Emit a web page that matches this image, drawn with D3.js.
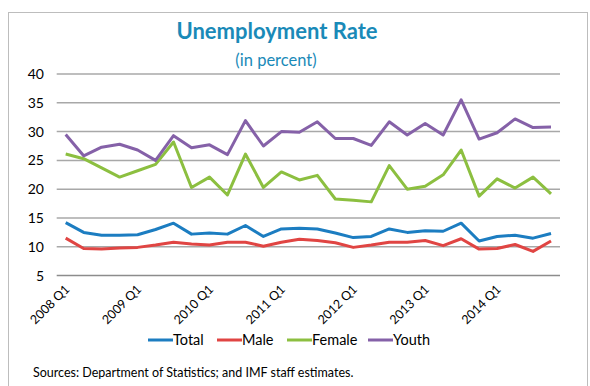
<!DOCTYPE html>
<html>
<head>
<meta charset="utf-8">
<script src="https://cdn.jsdelivr.net/npm/d3@7"></script>
<style>
  body { margin: 0; background: #fff; }
  svg { display: block; font-family: Lato, "Open Sans", sans-serif; }
</style>
</head>
<body>
<div id="chart"></div>
<script>
// quarters 2008 Q1 .. 2014 Q4
const years = [2008, 2009, 2010, 2011, 2012, 2013, 2014];
const quarters = [];
years.forEach(y => [1, 2, 3, 4].forEach(q => quarters.push(y + " Q" + q)));

const total  = [14.2, 12.5, 12.0, 12.0, 12.1, 13.0, 14.1, 12.2, 12.4, 12.2, 13.7, 11.8, 13.1, 13.2,
                13.1, 12.4, 11.6, 11.8, 13.1, 12.5, 12.8, 12.7, 14.1, 11.0, 11.8, 12.0, 11.5, 12.3];
const male   = [11.5, 9.7, 9.6, 9.8, 9.9, 10.3, 10.8, 10.5, 10.3, 10.8, 10.8, 10.1, 10.8, 11.3,
                11.1, 10.7, 9.9, 10.3, 10.8, 10.8, 11.1, 10.2, 11.4, 9.6, 9.7, 10.4, 9.2, 11.0];
const female = [26.1, 25.3, 23.7, 22.1, 23.2, 24.3, 28.2, 20.3, 22.1, 19.0, 26.1, 20.3, 23.0, 21.6,
                22.4, 18.3, 18.1, 17.8, 24.1, 20.0, 20.5, 22.5, 26.8, 18.8, 21.8, 20.2, 22.1, 19.2];
const youth  = [29.5, 25.8, 27.3, 27.8, 26.8, 25.0, 29.3, 27.2, 27.7, 26.0, 31.9, 27.5, 30.0, 29.9,
                31.7, 28.8, 28.8, 27.6, 31.7, 29.4, 31.4, 29.4, 35.5, 28.7, 29.8, 32.2, 30.7, 30.8];

const seriesNames = ["Total", "Male", "Female", "Youth"];
const seriesData = [total, male, female, youth];
const colors = ["#1c7dc1", "#e04543", "#8cbf40", "#8561a8"];
const yTicks = [5, 10, 15, 20, 25, 30, 35, 40];

const W = 590, H = 386;
const svg = d3.select("#chart").append("svg").attr("width", W).attr("height", H);

// frame
svg.append("rect")
  .attr("x", 8.5).attr("y", 12.5).attr("width", 579).attr("height", 380)
  .attr("fill", "none").attr("stroke", "#bdbdbd").attr("stroke-width", 1);

const x = d3.scalePoint().domain(quarters).range([56.7, 560]).padding(0.5);
const y = d3.scaleLinear().domain([5, 40]).range([275.6, 74]);

// title
svg.append("text").attr("x", 277).attr("y", 39).attr("text-anchor", "middle")
  .attr("fill", "#1a8ab8").style("font-size", "22px").style("font-weight", "bold")
  .text("Unemployment Rate");
svg.append("text").attr("x", 276).attr("y", 66).attr("text-anchor", "middle")
  .attr("fill", "#1a8ab8").style("font-size", "16.5px")
  .text("(in percent)");

// gridlines
svg.append("g").selectAll("line").data(yTicks).join("line")
  .attr("x1", 56.7).attr("x2", 560)
  .attr("y1", d => y(d)).attr("y2", d => y(d))
  .attr("stroke", d => d === 5 ? "#8c8c8c" : "#a8a8a8").attr("stroke-width", 1.5);

// y axis labels
const yAxis = d3.axisLeft(y).tickValues(yTicks).tickSize(0).tickPadding(0);
const yg = svg.append("g").attr("transform", "translate(44,0)").call(yAxis);
yg.select(".domain").remove();
yg.selectAll("text").style("font-size", "14px").attr("fill", "#000")
  .style("font-family", "Lato, 'Open Sans', sans-serif");

// x axis labels (every year Q1), rotated
const xAxis = d3.axisBottom(x).tickValues(quarters.filter(q => q.endsWith("Q1"))).tickSize(0).tickPadding(0);
const xg = svg.append("g").attr("transform", "translate(0,283)").call(xAxis);
xg.select(".domain").remove();
xg.selectAll("text")
  .style("font-size", "12.5px").attr("fill", "#000")
  .style("font-family", "Lato, 'Open Sans', sans-serif")
  .attr("text-anchor", "end").attr("dy", "0.35em").attr("y", 0)
  .attr("transform", "translate(1,4) rotate(-45)");

// lines
const line = d3.line().x((d, i) => x(quarters[i])).y(d => y(d));
seriesData.forEach((s, k) => {
  svg.append("path").datum(s)
    .attr("fill", "none").attr("stroke", colors[k]).attr("stroke-width", 3)
    .attr("stroke-linejoin", "round")
    .attr("d", line);
});

// legend
const legendX = [148, 217, 287, 368];
const lg = svg.append("g");
seriesNames.forEach((n, k) => {
  lg.append("line").attr("x1", legendX[k]).attr("x2", legendX[k] + 25)
    .attr("y1", 340).attr("y2", 340)
    .attr("stroke", colors[k]).attr("stroke-width", 3);
  lg.append("text").attr("x", legendX[k] + 25).attr("y", 345)
    .style("font-size", "14.5px").attr("fill", "#000").text(n);
});

// source
svg.append("text").attr("x", 33).attr("y", 377)
  .style("font-size", "12.5px").attr("fill", "#000")
  .text("Sources: Department of Statistics; and IMF staff estimates.");
</script>
</body>
</html>
